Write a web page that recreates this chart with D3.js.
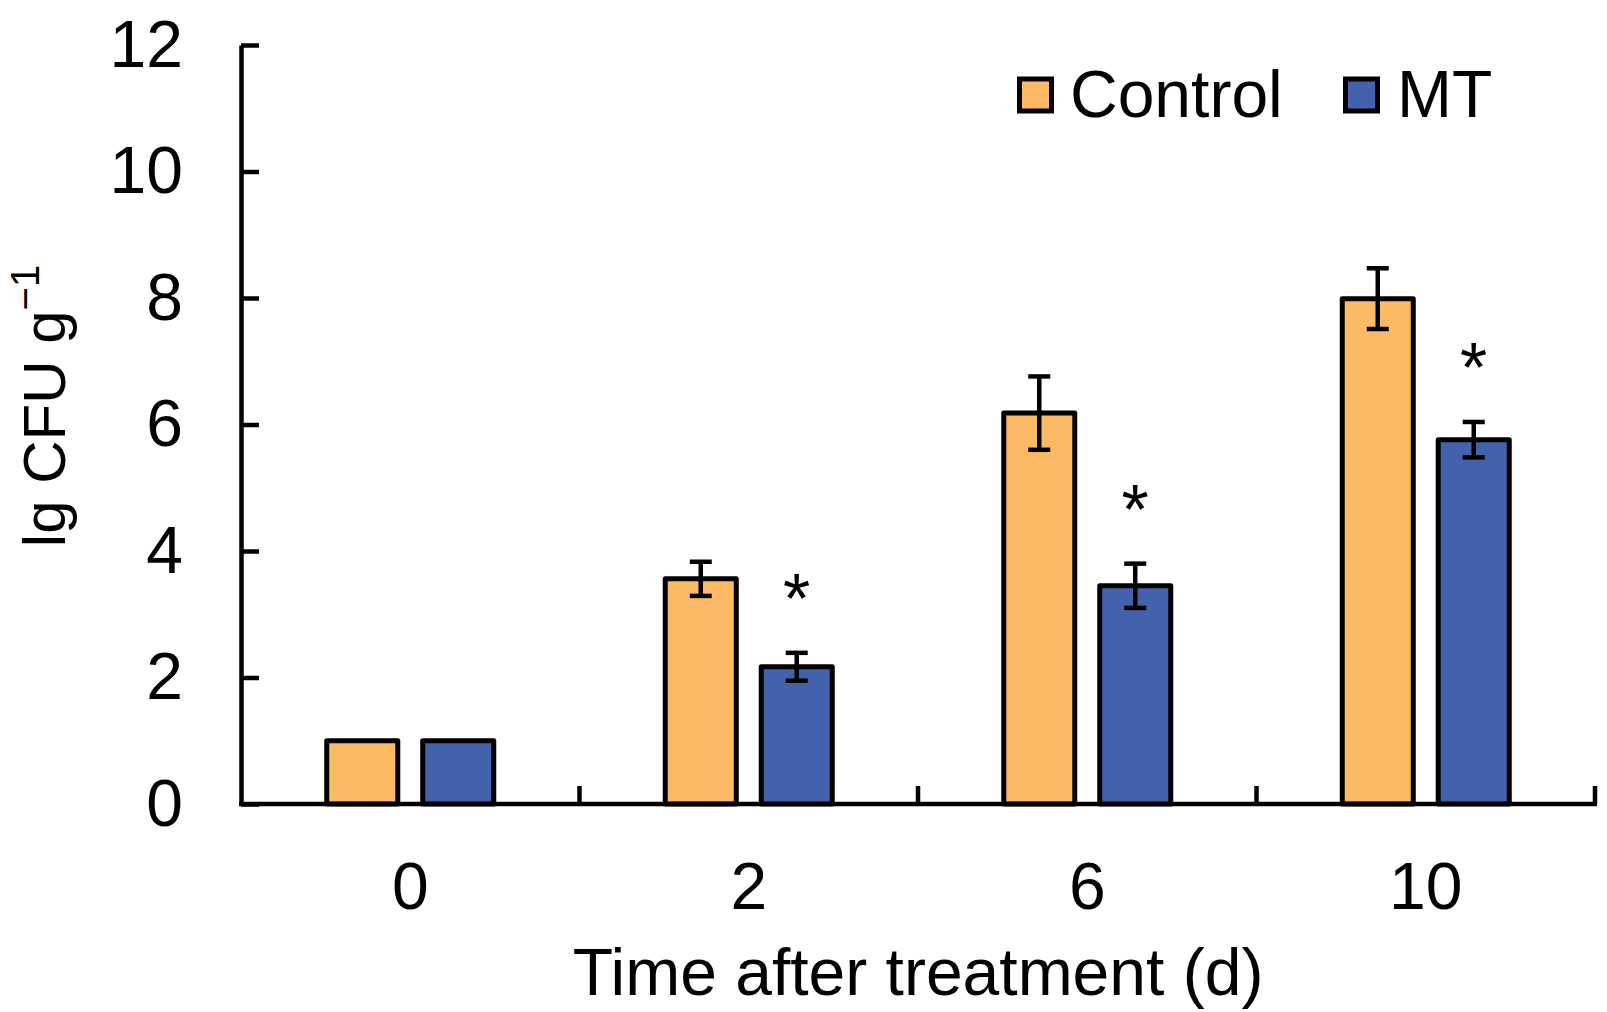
<!DOCTYPE html>
<html><head><meta charset="utf-8">
<script src="https://cdn.jsdelivr.net/npm/d3@7"></script>
<style>
html,body{margin:0;padding:0;background:#fff;}
svg{display:block;font-family:Arial,"Liberation Sans",sans-serif;}
</style></head>
<body>
<svg id="chart" width="1607" height="1012"></svg>
<script>
const categories = ["0", "2", "6", "10"];
const seriesNames = ["Control", "MT"];
const controlValues = [1.0, 3.56, 6.18, 7.99];
const controlErrors = [0, 0.27, 0.58, 0.48];
const mtValues = [1.0, 2.17, 3.45, 5.76];
const mtErrors = [0, 0.22, 0.35, 0.28];
const mtSignificant = [false, true, true, true];
const yTicks = [0, 2, 4, 6, 8, 10, 12];
const colors = {Control: "#FDB963", MT: "#4262AE"};

(function(){
const data = categories.map((c, i) => ({
  cat: c,
  bars: [
    {s: "Control", v: controlValues[i], e: controlErrors[i], sig: false},
    {s: "MT", v: mtValues[i], e: mtErrors[i], sig: mtSignificant[i]}
  ]
}));

const svg = d3.select("#chart");
const mLeft = 241, mRight = 1595, mTop = 45, mBottom = 804;

const x = d3.scaleBand().domain(categories).range([mLeft, mRight]).paddingInner(0).paddingOuter(0);
const bw = x.bandwidth();
const x1 = d3.scaleBand().domain(seriesNames).range([bw/2 - 86, bw/2 + 86]).paddingInner(0.208).paddingOuter(0);
const y = d3.scaleLinear().domain([0, 12]).range([mBottom, mTop]);

const SW = 5;
const g = svg.append("g");
data.forEach(d => {
  d.bars.forEach(b => {
    const bx = x(d.cat) + x1(b.s);
    g.append("rect")
      .attr("x", bx + SW/2).attr("width", x1.bandwidth() - SW)
      .attr("y", y(b.v)).attr("height", y(0) - y(b.v))
      .attr("fill", colors[b.s]).attr("stroke", "#000").attr("stroke-width", SW)
      .attr("stroke-linejoin", "round");
    const cx = bx + x1.bandwidth()/2;
    if (b.e > 0) {
      const capW = 22;
      g.append("line").attr("x1", cx).attr("x2", cx).attr("y1", y(b.v + b.e)).attr("y2", y(b.v - b.e))
        .attr("stroke", "#000").attr("stroke-width", 4.5);
      [b.v + b.e, b.v - b.e].forEach(vv => {
        g.append("line").attr("x1", cx - capW/2).attr("x2", cx + capW/2).attr("y1", y(vv)).attr("y2", y(vv))
          .attr("stroke", "#000").attr("stroke-width", 4.5);
      });
    }
    if (b.sig) {
      const fs = 70;
      const cy = y(b.v + b.e) - 70;
      g.append("text").attr("x", cx).attr("y", cy + 0.57*fs)
        .attr("text-anchor", "middle").attr("font-size", fs).attr("fill", "#000").text("*");
    }
  });
});

const yAxis = d3.axisLeft(y).tickValues(yTicks).tickSizeInner(-18).tickSizeOuter(0).tickPadding(58);
const ya = svg.append("g").attr("transform", `translate(${mLeft},0)`).call(yAxis);
ya.select(".domain").attr("stroke-width", 4.5).attr("stroke", "#000");
ya.selectAll(".tick line").attr("stroke-width", 4.5).attr("stroke", "#000");
ya.selectAll(".tick text").attr("font-size", 66).attr("font-family", "Arial, 'Liberation Sans', sans-serif").attr("fill", "#000");

const xAxis = d3.axisBottom(x).tickSize(0).tickPadding(58);
const xa = svg.append("g").attr("transform", `translate(0,${mBottom})`).call(xAxis);
xa.select(".domain").attr("stroke-width", 4.5).attr("stroke", "#000").attr("d", `M${mLeft - 2},0H${mRight + 2}`);
xa.selectAll(".tick text").attr("font-size", 66).attr("font-family", "Arial, 'Liberation Sans', sans-serif").attr("fill", "#000");
categories.forEach(c => {
  const bx = x(c) + x.bandwidth();
  svg.append("line").attr("x1", bx).attr("x2", bx).attr("y1", mBottom).attr("y2", mBottom - 18)
    .attr("stroke", "#000").attr("stroke-width", 4.5);
});

svg.append("text").attr("x", (mLeft + mRight) / 2).attr("y", 995).attr("text-anchor", "middle")
  .attr("font-size", 66).attr("fill", "#000").text("Time after treatment (d)");

const yt = svg.append("text").attr("transform", "translate(65,406) rotate(-90)")
  .attr("text-anchor", "middle").attr("font-size", 60).attr("fill", "#000");
yt.append("tspan").text("lg CFU g");
yt.append("tspan").attr("font-size", 40).attr("dy", -26).text("\u22121");

const legendItems = [
  {s: "Control", bx: 1017, tx: 1070},
  {s: "MT", bx: 1343, tx: 1397}
];
legendItems.forEach(l => {
  svg.append("rect").attr("x", l.bx + 2.5).attr("y", 79).attr("width", 32).attr("height", 32)
    .attr("fill", colors[l.s]).attr("stroke", "#000").attr("stroke-width", 5);
  svg.append("text").attr("x", l.tx).attr("y", 117).attr("font-size", 66).attr("fill", "#000").text(l.s);
});
})();
</script>
</body></html>
